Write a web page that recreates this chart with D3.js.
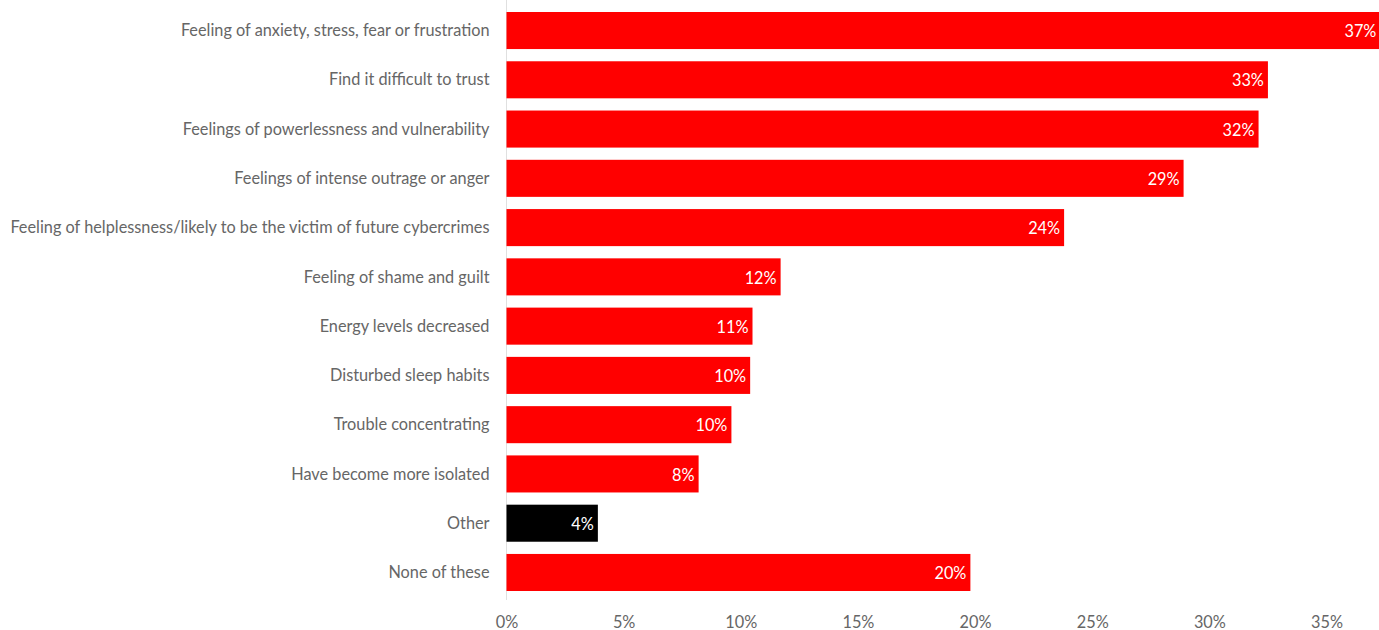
<!DOCTYPE html>
<html><head><meta charset="utf-8">
<script src="https://cdn.jsdelivr.net/npm/d3@7"></script>
<style>body{margin:0;background:#fff}svg{display:block}text{font-family:Lato,"Noto Sans",sans-serif}</style>
</head><body><svg id="c" width="1379" height="630"></svg>
<script>
const categories = ["Feeling of anxiety, stress, fear or frustration","Find it difficult to trust","Feelings of powerlessness and vulnerability","Feelings of intense outrage or anger","Feeling of helplessness/likely to be the victim of future cybercrimes","Feeling of shame and guilt","Energy levels decreased","Disturbed sleep habits","Trouble concentrating","Have become more isolated","Other","None of these"];
const values = [37.3,32.5,32.1,28.9,23.8,11.7,10.5,10.4,9.6,8.2,3.9,19.8];
const valueLabels = ["37%","33%","32%","29%","24%","12%","11%","10%","10%","8%","4%","20%"];
const highlight = ["Other"];
const ticks = [0,5,10,15,20,25,30,35];

const svg = d3.select("#c");
const x = d3.scaleLinear().domain([0,35]).range([506.5,1326.5]);
const y = d3.scaleBand().domain(categories).range([12,591]).paddingInner(0.248).paddingOuter(0);

svg.append("line").attr("x1",506.5).attr("x2",506.5).attr("y1",0).attr("y2",600).attr("stroke","#e0e0e0");

svg.append("g").selectAll("rect").data(categories).join("rect")
  .attr("x",x(0)).attr("y",d=>y(d)).attr("height",y.bandwidth())
  .attr("width",(d,i)=>x(values[i])-x(0))
  .attr("fill",d=>highlight.includes(d)?"#000":"#ff0000");

svg.append("g").selectAll("text").data(categories).join("text")
  .attr("x",x(0)-17).attr("y",d=>y(d)+y.bandwidth()/2).attr("dy","0.35em")
  .attr("text-anchor","end").attr("fill","#666").attr("font-size",16.3).text(d=>d);

svg.append("g").selectAll("text").data(categories).join("text")
  .attr("x",(d,i)=>x(values[i])-4).attr("y",d=>y(d)+y.bandwidth()/2+1).attr("dy","0.35em")
  .attr("text-anchor","end").attr("fill","#fff").attr("font-size",16.3).text((d,i)=>valueLabels[i]);

const ax = d3.axisBottom(x).tickValues(ticks).tickFormat(d=>d+"%").tickSize(0).tickPadding(0);
const g = svg.append("g").attr("transform","translate(0,616)").call(ax);
g.select(".domain").remove();
g.selectAll("text").attr("fill","#666").attr("font-size",16.3).attr("font-family","Lato,sans-serif");
</script></body></html>
